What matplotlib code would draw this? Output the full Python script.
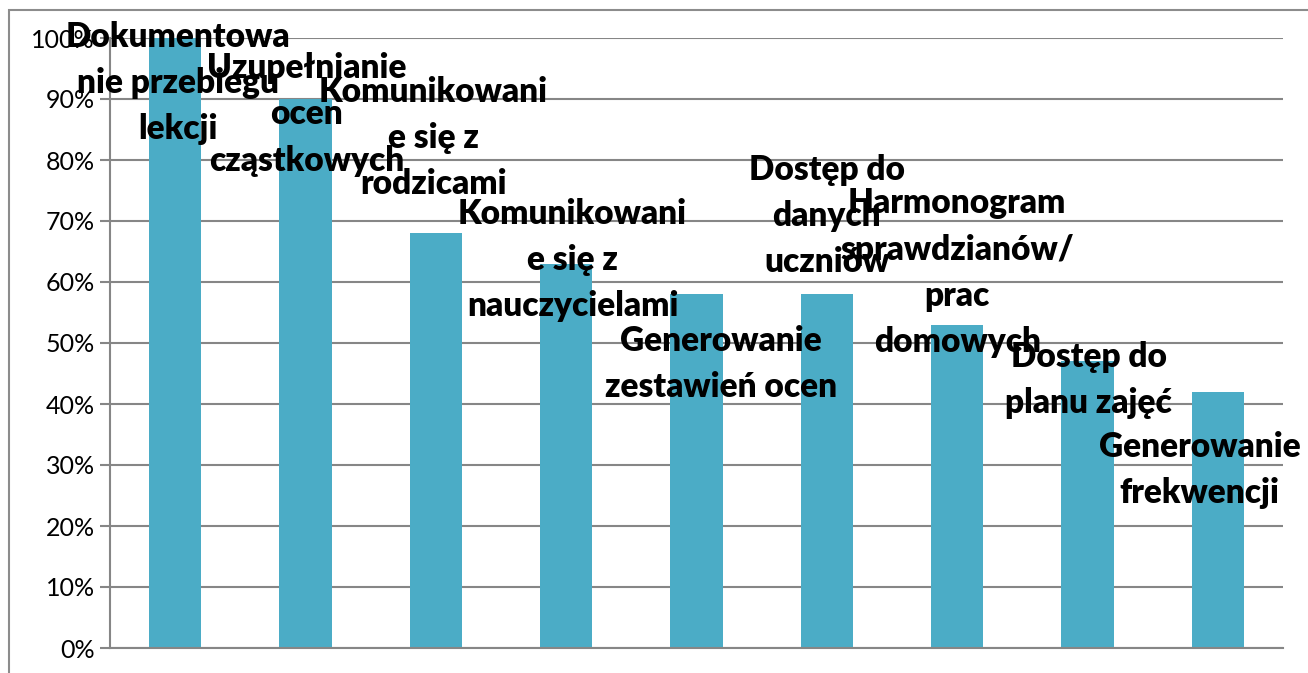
import matplotlib
matplotlib.use("Agg")
import matplotlib.pyplot as plt
from matplotlib.patches import Rectangle
from matplotlib.ticker import PercentFormatter

categories = ["Dokumentowa\nnie przebiegu\nlekcji",
              "Uzupełnianie\nocen\ncząstkowych",
              "Komunikowani\ne się z\nrodzicami",
              "Komunikowani\ne się z\nnauczycielami",
              "Generowanie\nzestawień ocen",
              "Dostęp do\ndanych\nuczniów",
              "Harmonogram\nsprawdzianów/\nprac\ndomowych",
              "Dostęp do\nplanu zajęć",
              "Generowanie\nfrekwencji"]
values = [100, 90, 68, 63, 58, 58, 53, 47, 42]

# where the data labels were dragged to (x in category units, y in %)
label_x = [0.02, 1.01, 1.98, 3.05, 4.19, 5.0, 6.0, 7.01, 7.86]
label_y = [92.6, 87.5, 83.6, 63.6, 46.6, 70.8, 61.5, 43.9, 29.2]

W, H = 1308, 673
fig = plt.figure(figsize=(W / 100, H / 100), dpi=100)
ax = fig.add_axes([110 / W, (H - 648) / H, (1283 - 110) / W, (648 - 38) / H])

fig.patches.append(Rectangle((9 / W, -0.1), 1.2, (H - 10) / H + 0.1, transform=fig.transFigure,
                             fill=False, edgecolor="#8c8c8c", linewidth=1.5))

x = range(len(values))
ax.bar(x, values, width=0.4, color="#4bacc6", zorder=2)

ax.set_xlim(-0.5, len(values) - 0.5)
ax.set_ylim(0, 100)
ax.set_yticks(range(0, 101, 10))
ax.yaxis.set_major_formatter(PercentFormatter(decimals=0))
ax.set_xticks([])
ax.grid(axis="y", color="#868686", linewidth=1.5, zorder=1)
for s in ["top", "right"]:
    ax.spines[s].set_visible(False)
ax.spines["left"].set_color("#868686")
ax.spines["left"].set_linewidth(1.5)
ax.spines["bottom"].set_color("#868686")
ax.spines["bottom"].set_linewidth(1.5)
ax.tick_params(axis="y", length=7, width=1.5, color="#868686", labelsize=18, pad=4)
for t in ax.get_yticklabels():
    t.set_fontfamily("Lato")

for lx, ly, lab in zip(label_x, label_y, categories):
    ax.text(lx, ly, lab, ha="center", va="center", fontsize=24, fontweight="heavy",
            family="Lato", linespacing=1.55, zorder=3, clip_on=False)

fig.savefig("out.png", dpi=100)
